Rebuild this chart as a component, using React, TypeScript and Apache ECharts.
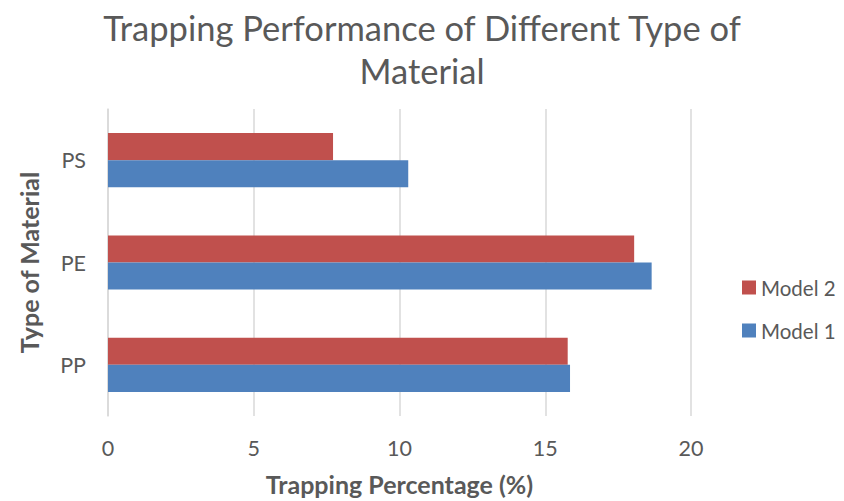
import React, { useEffect, useRef } from "react";
import * as echarts from "echarts";

const categories = ["PP", "PE", "PS"];
const model1 = [15.85, 18.65, 10.3];
const model2 = [15.77, 18.05, 7.72];
const xTicks = { min: 0, max: 20, interval: 5 };

const FONT = "Lato";
const GREY = "#595959";

export default function App() {
  const ref = useRef<HTMLDivElement>(null);
  useEffect(() => {
    const chart = echarts.init(ref.current!, undefined, { renderer: "svg" });
    chart.setOption({
      animation: false,
      backgroundColor: "#ffffff",
      title: [
        {
          text: "Trapping Performance of Different Type of",
          left: "center",
          top: 5,
          textStyle: { fontFamily: FONT, fontSize: 34.5, fontWeight: "normal", color: GREY },
        },
        {
          text: "Material",
          left: "center",
          top: 48,
          textStyle: { fontFamily: FONT, fontSize: 34.5, fontWeight: "normal", color: GREY },
        },
      ],
      legend: {
        data: ["Model 2", "Model 1"],
        orient: "vertical",
        left: 742,
        top: 277,
        padding: 0,
        itemWidth: 14,
        itemHeight: 14,
        itemGap: 22,
        icon: "rect",
        textStyle: { fontFamily: FONT, fontSize: 20.5, color: GREY },
      },
      grid: { left: 108, right: 153, top: 109, bottom: 81, containLabel: false },
      xAxis: {
        type: "value",
        min: xTicks.min,
        max: xTicks.max,
        interval: xTicks.interval,
        name: "Trapping Percentage (%)",
        nameLocation: "middle",
        nameGap: 55,
        nameTextStyle: { fontFamily: FONT, fontSize: 25, fontWeight: "bold", color: GREY },
        axisLine: { show: false },
        axisTick: { show: false },
        axisLabel: { fontFamily: FONT, fontSize: 21.5, color: GREY, margin: 21 },
        splitLine: { lineStyle: { color: "#d9d9d9", width: 1.5 } },
      },
      yAxis: {
        type: "category",
        data: categories,
        name: "Type of Material",
        nameLocation: "middle",
        nameGap: 67,
        nameRotate: 90,
        nameTextStyle: { fontFamily: FONT, fontSize: 25, fontWeight: "bold", color: GREY },
        axisLine: { show: true, lineStyle: { color: "#d9d9d9", width: 1.5 } },
        axisTick: { show: false },
        axisLabel: { fontFamily: FONT, fontSize: 21.5, color: GREY, margin: 22 },
      },
      series: [
        {
          name: "Model 2",
          type: "bar",
          data: model2,
          itemStyle: { color: "#C0504D" },
          barGap: "0%",
          barCategoryGap: "47%",
        },
        {
          name: "Model 1",
          type: "bar",
          data: model1,
          itemStyle: { color: "#4F81BD" },
          barGap: "0%",
          barCategoryGap: "47%",
        },
      ],
    });
    return () => chart.dispose();
  }, []);
  return (
    <div
      ref={ref}
      style={{ position: "absolute", left: 0, top: 0, width: 844, height: 501 }}
    />
  );
}
